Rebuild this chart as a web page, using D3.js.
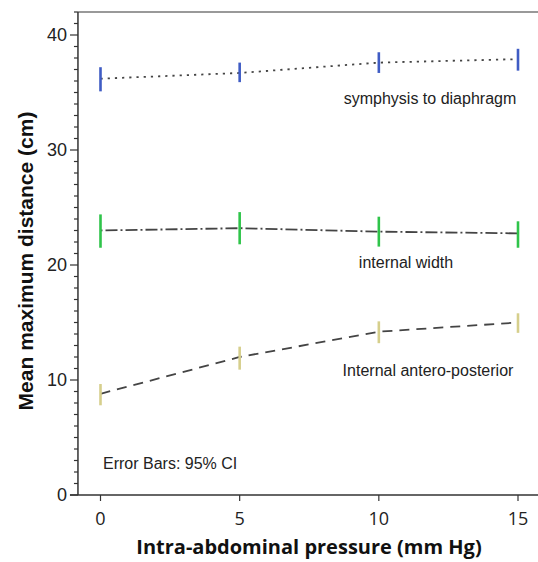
<!DOCTYPE html>
<html>
<head>
<meta charset="utf-8">
<script src="https://cdn.jsdelivr.net/npm/d3@7"></script>
<style>
  body { margin: 0; background: #fff; }
  svg { display: block; }
</style>
</head>
<body>
<svg class="chart" width="538" height="562"></svg>
<script>
// pressure levels (mm Hg)
const pressures = [0, 5, 10, 15];

// symphysis to diaphragm
const symMean = [36.2, 36.7, 37.6, 37.9];
const symLow  = [35.1, 35.9, 36.7, 36.9];
const symHigh = [37.2, 37.6, 38.5, 38.8];

// internal width
const widMean = [23.0, 23.2, 22.9, 22.75];
const widLow  = [21.5, 21.8, 21.6, 21.5];
const widHigh = [24.4, 24.6, 24.2, 23.8];

// internal antero-posterior
const apMean = [8.8, 12.0, 14.2, 15.0];
const apLow  = [7.8, 10.9, 13.2, 14.1];
const apHigh = [9.65, 12.9, 15.1, 15.8];

const yTicks = [0, 10, 20, 30, 40];
const xTicks = [0, 5, 10, 15];

function drawChart(){
  const svg = d3.select('svg.chart');

  const x = d3.scaleLinear().domain([0, 15]).range([100.5, 518]);
  const y = d3.scaleLinear().domain([0, 40]).range([495, 35]);

  const left = x(-0.81);
  const right = 538;
  const top = y(42);
  const bottom = y(0);

  // top frame line
  svg.append('line')
    .attr('x1', left).attr('x2', right)
    .attr('y1', top).attr('y2', top)
    .style('stroke', '#777')
    .style('stroke-width', 1.5);

  // y axis with minor ticks
  const yAxis = svg.append('g').attr('transform', `translate(${left},0)`);
  yAxis.append('line')
    .attr('x1', 0).attr('x2', 0)
    .attr('y1', top).attr('y2', bottom)
    .style('stroke', '#333').style('stroke-width', 1.5);
  yAxis.selectAll('line.minor')
    .data(d3.range(0, 43))
    .enter()
    .append('line')
    .attr('class', 'minor')
    .attr('x1', d => d % 10 === 0 ? -8 : -4)
    .attr('x2', 0)
    .attr('y1', d => y(d)).attr('y2', d => y(d))
    .style('stroke', '#333').style('stroke-width', 1.2);
  yAxis.selectAll('text')
    .data(yTicks)
    .enter()
    .append('text')
    .attr('x', -11)
    .attr('y', d => y(d))
    .attr('dy', '0.36em')
    .text(d => d)
    .style('text-anchor', 'end')
    .style('font-family', "'Liberation Sans', Arial, sans-serif")
    .style('font-size', '18px')
    .style('fill', '#222');

  // x axis
  const xAxis = svg.append('g').attr('transform', `translate(0,${bottom})`);
  xAxis.append('line')
    .attr('x1', left - 8).attr('x2', right)
    .attr('y1', 0).attr('y2', 0)
    .style('stroke', '#333').style('stroke-width', 1.5);
  xAxis.selectAll('line.tick')
    .data(xTicks)
    .enter()
    .append('line')
    .attr('class', 'tick')
    .attr('x1', d => x(d)).attr('x2', d => x(d))
    .attr('y1', 0).attr('y2', 6)
    .style('stroke', '#333').style('stroke-width', 1.2);
  xAxis.selectAll('text')
    .data(xTicks)
    .enter()
    .append('text')
    .attr('x', d => x(d))
    .attr('y', 30)
    .text(d => d)
    .style('text-anchor', 'middle')
    .style('font-family', "'Open Sans', sans-serif")
    .style('font-size', '18px')
    .style('fill', '#222');

  // axis titles
  svg.append('text')
    .attr('x', 309).attr('y', 554)
    .text('Intra-abdominal pressure (mm Hg)')
    .style('text-anchor', 'middle')
    .style('font-family', "'Open Sans', sans-serif")
    .style('font-weight', 700)
    .style('font-size', '20px')
    .style('fill', '#111');

  svg.append('text')
    .attr('transform', 'translate(33,261) rotate(-90)')
    .text('Mean maximum distance (cm)')
    .style('text-anchor', 'middle')
    .style('font-family', "'Liberation Sans', Arial, sans-serif")
    .style('font-weight', 700)
    .style('font-size', '21px')
    .style('fill', '#111');

  const series = [
    {mean: symMean, low: symLow, high: symHigh, color: '#3f5cc4', dash: '2.2,5',
     label: 'symphysis to diaphragm', lx: 430, ly: 104},
    {mean: widMean, low: widLow, high: widHigh, color: '#2fc44a', dash: '2,3,12,3',
     label: 'internal width', lx: 406, ly: 268},
    {mean: apMean, low: apLow, high: apHigh, color: '#d6cf8c', dash: '10,7',
     label: 'Internal antero-posterior', lx: 428, ly: 376}
  ];

  const line = d3.line()
    .x((d, i) => x(pressures[i]))
    .y(d => y(d));

  series.forEach(s => {
    const g = svg.append('g');
    g.append('path')
      .attr('d', line(s.mean))
      .style('fill', 'none')
      .style('stroke', '#444')
      .style('stroke-width', 1.8)
      .style('stroke-dasharray', s.dash);

    g.selectAll('line.err')
      .data(pressures)
      .enter()
      .append('line')
      .attr('class', 'err')
      .attr('x1', d => x(d)).attr('x2', d => x(d))
      .attr('y1', (d, i) => y(s.low[i]))
      .attr('y2', (d, i) => y(s.high[i]))
      .style('stroke', s.color)
      .style('stroke-width', 2.6);

    g.append('text')
      .attr('x', s.lx).attr('y', s.ly)
      .text(s.label)
      .style('text-anchor', 'middle')
      .style('font-family', "'Liberation Sans', Arial, sans-serif")
      .style('font-size', '16px')
      .style('fill', '#222');
  });

  svg.append('text')
    .attr('x', 103).attr('y', 469)
    .text('Error Bars: 95% CI')
    .style('font-family', "'Liberation Sans', Arial, sans-serif")
    .style('font-size', '16px')
    .style('fill', '#222');
}

drawChart();
</script>
</body>
</html>
